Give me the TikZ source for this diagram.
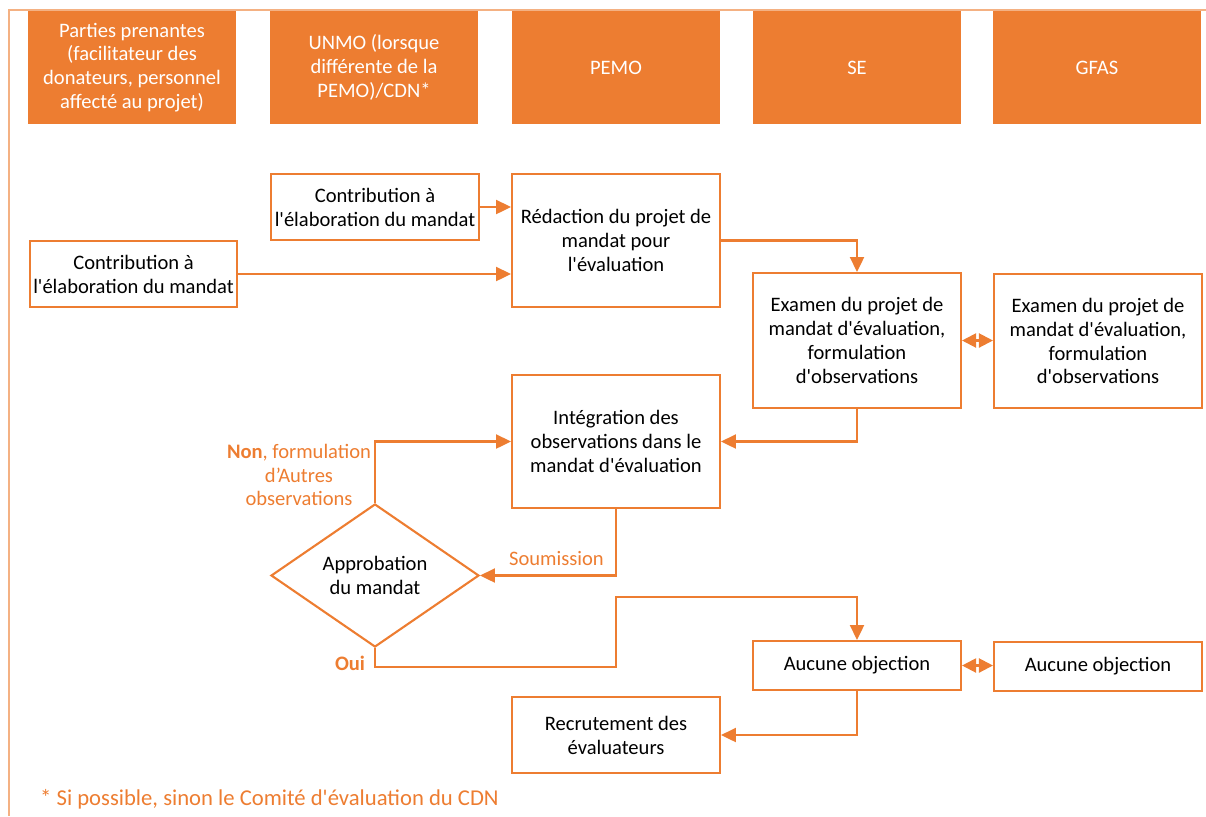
\documentclass[tikz,border=0pt]{standalone}
\usepackage{fontspec}
\setmainfont{Carlito}[Ligatures=TeXOff]
\usetikzlibrary{shapes.geometric,arrows.meta}
\definecolor{acc}{HTML}{ED7D31}
\definecolor{framec}{HTML}{F4B183}
\tikzset{
  hdr/.style={fill=acc, text=white, minimum width=4.16cm, minimum height=2.26cm, inner sep=2pt, align=center, font=\fontsize{11.7}{13.6}\selectfont},
  box/.style={draw=acc, line width=1.2pt, fill=white, minimum width=4.16cm, align=center, inner sep=2pt, font=\fontsize{11.7}{13.6}\selectfont},
  dia/.style={draw=acc, line width=1.2pt, diamond, inner sep=0pt, minimum width=4.16cm, minimum height=2.66cm, align=center, font=\fontsize{11.7}{13.6}\selectfont},
  conn/.style={draw=acc, line width=1.2pt, -{Triangle[length=8.5pt,width=8pt]}},
  dconn/.style={draw=acc, line width=1.2pt, {Triangle[length=8pt,width=8pt]}-{Triangle[length=8pt,width=8pt]}},
  lbl/.style={text=acc, align=center, font=\fontsize{11.7}{13.6}\selectfont},
}
\begin{document}
\begin{tikzpicture}[x=0.02cm, y=-0.02cm]
\useasboundingbox (0,0) rectangle (1206,816);
\draw[framec, line width=1.3pt] (9,816) -- (9,10) -- (1206,10);
% headers
\node[hdr] (h1) at (132,67.5) {Parties prenantes\\(facilitateur des\\donateurs, personnel\\affecté au projet)};
\node[hdr] (h2) at (374,67.5) {UNMO (lorsque\\différente de la\\PEMO)/CDN*};
\node[hdr] (h3) at (616,67.5) {PEMO};
\node[hdr] (h4) at (857,67.5) {SE};
\node[hdr] (h5) at (1097,67.5) {GFAS};
% boxes
\node[box, minimum height=1.32cm, minimum width=4.14cm] (c1) at (133.5,274) {Contribution à\\l'élaboration du mandat};
\node[box, minimum height=1.32cm] (c2) at (375,207) {Contribution à\\l'élaboration du mandat};
\node[box, minimum height=2.66cm] (red) at (616,240.5) {Rédaction du projet de\\mandat pour\\l'évaluation};
\node[box, minimum height=2.7cm] (exse) at (857,340.5) {Examen du projet de\\mandat d'évaluation,\\formulation\\d'observations};
\node[box, minimum height=2.68cm] (exgf) at (1098,341) {Examen du projet de\\mandat d'évaluation,\\formulation\\d'observations};
\node[box, minimum height=2.66cm] (integ) at (616,441.5) {Intégration des\\observations dans le\\mandat d'évaluation};
\node[dia] (dia) at (375,575.5) {Approbation\\du mandat};
\node[box, minimum height=0.98cm] (aun) at (857,665.5) {Aucune objection};
\node[box, minimum height=0.98cm] (aung) at (1098,666.5) {Aucune objection};
\node[box, minimum height=1.52cm] (rec) at (616,735) {Recrutement des\\évaluateurs};
% coordinates
\coordinate (o1) at (616,667);
\coordinate (o2) at (616,597);
% connectors
\draw[conn] (c2.east) -- (c2.east -| red.west);
\draw[conn] (c1.east) -- (c1.east -| red.west);
\draw[conn] (red.east) -| (exse.north);
\draw[dconn] (exse.east) -- (exse.east -| exgf.west);
\draw[conn] (exse.south) |- (integ.east);
\draw[conn] (integ.south) |- (dia.east);
\draw[conn] (dia.north) |- (integ.west);
\draw[conn] (dia.south) |- (o1) -- (o2) -| (aun.north);
\draw[dconn] (aun.east) -- (aun.east -| aung.west);
\draw[conn] (aun.south) |- (rec.east);
% labels
\node[lbl, anchor=east] (ls) at (610,558) {Soumission};
\node[lbl] (ln) at (299,475) {\textbf{Non}, formulation\\d’Autres\\observations};
\node[lbl, font=\fontsize{11.7}{13.6}\selectfont\bfseries] (lo) at (350,663) {Oui};
\node[lbl, anchor=west, font=\fontsize{12.9}{15}\selectfont] (fn) at (34,799) {* Si possible, sinon le Comité d'évaluation du CDN};
\end{tikzpicture}
\end{document}
